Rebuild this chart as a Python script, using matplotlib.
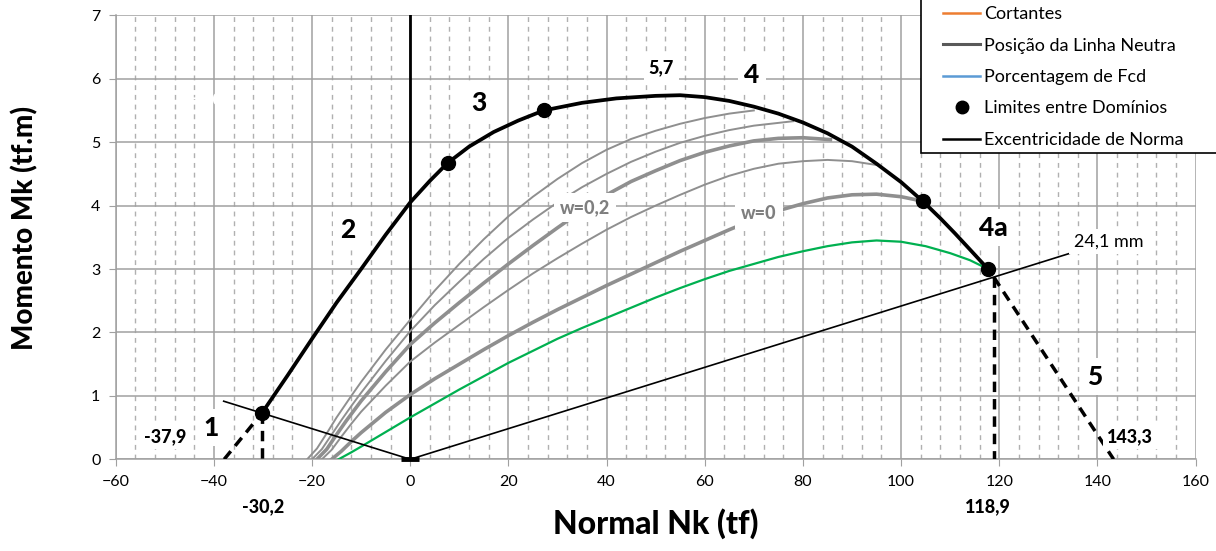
import matplotlib
matplotlib.use("Agg")
import matplotlib.pyplot as plt
from matplotlib.lines import Line2D
from matplotlib.patches import Rectangle

plt.rcParams['font.family'] = ['Lato', 'DejaVu Sans']

# ---------------- data ----------------
# interaction envelope (domains)
dom1_N = [-37.9, -30.2]
dom1_M = [0.0, 0.73]
dom2_N = [-30.2, -25, -20, -15, -10, -5, 0, 4, 7.6]
dom2_M = [0.73, 1.32, 1.9, 2.47, 3.0, 3.54, 4.05, 4.39, 4.67]
dom3_N = [7.6, 12, 17, 22, 27.2]
dom3_M = [4.67, 4.93, 5.16, 5.34, 5.5]
dom4_N = [27.2, 35, 42, 50, 55, 60, 65, 70, 75, 80, 85, 90, 95, 100, 104.4]
dom4_M = [5.5, 5.62, 5.69, 5.73, 5.74, 5.71, 5.65, 5.56, 5.45, 5.31, 5.14, 4.93, 4.66, 4.37, 4.07]
dom4a_N = [104.4, 108, 111, 114, 117.7]
dom4a_M = [4.07, 3.8, 3.56, 3.31, 3.0]
dom5_N = [118.9, 143.3]
dom5_M = [2.87, 0.0]
vert_left_N = [-30.2, -30.2]
vert_left_M = [0.73, 0.0]
vert_right_N = [118.9, 118.9]
vert_right_M = [2.87, 0.0]

# domain limits
lim_N = [-30.2, 7.6, 27.2, 104.4, 117.7]
lim_M = [0.73, 4.67, 5.5, 4.07, 3.0]

# eccentricity lines (24,1 mm)
ecc_left_N = [0, -38.0]
ecc_left_M = [0, 0.916]
ecc_right_N = [0, 134.5]
ecc_right_M = [0, 3.25]

# gray curves (reinforcement ratios)
t1_N = [-21, -19, -17, -15, -12, -10, -5, 0, 5, 10, 15, 20, 25, 30, 35, 40, 45, 50, 55, 60, 65, 70]
t1_M = [0, 0.17, 0.41, 0.66, 1.0, 1.22, 1.73, 2.2, 2.66, 3.08, 3.47, 3.83, 4.14, 4.42, 4.67, 4.88, 5.05, 5.18, 5.29, 5.38, 5.45, 5.5]
t2_N = [-20, -18, -16, -14, -12, -10, -5, 0, 5, 10, 15, 20, 25, 30, 35, 40, 45, 50, 55, 60, 65, 70, 78]
t2_M = [0, 0.16, 0.39, 0.62, 0.84, 1.05, 1.55, 2.02, 2.43, 2.8, 3.16, 3.49, 3.78, 4.05, 4.29, 4.5, 4.69, 4.85, 4.99, 5.1, 5.19, 5.26, 5.33]
tk1_N = [-19, -17, -15, -13, -10, -5, 0, 5, 10, 15, 20, 25, 30, 35, 40, 45, 50, 55, 60, 65, 70, 75, 80, 85.6]
tk1_M = [0, 0.16, 0.39, 0.61, 0.92, 1.38, 1.81, 2.15, 2.47, 2.78, 3.08, 3.37, 3.65, 3.92, 4.17, 4.38, 4.55, 4.71, 4.84, 4.94, 5.02, 5.06, 5.07, 5.04]
t3_N = [-18, -16, -14, -12, -10, -5, 0, 5, 10, 15, 20, 25, 30, 35, 40, 45, 50, 55, 60, 65, 70, 75, 80, 85, 90, 95]
t3_M = [0, 0.15, 0.36, 0.56, 0.75, 1.16, 1.54, 1.84, 2.12, 2.4, 2.67, 2.93, 3.17, 3.4, 3.62, 3.82, 4.0, 4.17, 4.33, 4.47, 4.58, 4.66, 4.7, 4.72, 4.7, 4.64]
w0_N = [-16, -14, -12, -10, -5, 0, 5, 10, 15, 20, 25, 30, 35, 40, 45, 50, 55, 60, 65, 70, 75, 80, 85, 90, 95, 100, 104.4]
w0_M = [0, 0.13, 0.28, 0.42, 0.74, 1.02, 1.27, 1.5, 1.73, 1.95, 2.16, 2.36, 2.55, 2.74, 2.92, 3.1, 3.28, 3.45, 3.62, 3.78, 3.92, 4.03, 4.12, 4.17, 4.18, 4.14, 4.07]
gr_N = [-14.6, -12, -10, -5, 0, 5, 10, 15, 20, 25, 30, 35, 40, 45, 50, 55, 60, 65, 70, 75, 80, 85, 90, 95, 100, 105, 110, 114, 117.7]
gr_M = [0, 0.11, 0.2, 0.43, 0.66, 0.88, 1.1, 1.31, 1.52, 1.71, 1.9, 2.07, 2.23, 2.39, 2.55, 2.7, 2.84, 2.97, 3.08, 3.19, 3.28, 3.36, 3.42, 3.45, 3.43, 3.36, 3.25, 3.14, 3.0]

x_ticks = [-60, -40, -20, 0, 20, 40, 60, 80, 100, 120, 140, 160]
y_ticks = [0, 1, 2, 3, 4, 5, 6, 7]

legend_labels = ['Cortantes', 'Posição da Linha Neutra', 'Porcentagem de Fcd',
                 'Limites entre Domínios', 'Excentricidade de Norma']
legend_colors = ['#ED7D31', '#595959', '#5B9BD5', 'black', 'black']

# ---------------- figure ----------------
W, H = 1216, 551
fig = plt.figure(figsize=(W / 100, H / 100), dpi=100)
x0, x1, y0, y1 = 115.7, 1195.6, 459.3, 15.3
ax = fig.add_axes([x0 / W, 1 - y0 / H, (x1 - x0) / W, (y0 - y1) / H])
ax.set_xlim(-60, 160)
ax.set_ylim(0, 7)
ax.set_xticks(x_ticks)
ax.set_yticks(y_ticks)
ax.set_xticks(range(-56, 160, 4), minor=True)
ax.set_axisbelow(True)
ax.grid(which='major', color='#a0a0a0', lw=1.1)
ax.grid(which='minor', axis='x', color='#b0b0b0', lw=1.0, linestyle=(0, (3.5, 3.5)))
ax.tick_params(which='minor', length=0)
ax.tick_params(which='major', length=5, color='#a0a0a0', labelsize=11.5, pad=6)
for s in ['top', 'right']:
    ax.spines[s].set_visible(False)
for s in ['left', 'bottom']:
    ax.spines[s].set_color('#a0a0a0')
    ax.spines[s].set_linewidth(1.1)

ax.axvline(0, color='black', lw=2.0, zorder=3)

gray = '#8f8f8f'
ax.plot(t1_N, t1_M, color=gray, lw=1.4, zorder=3)
ax.plot(t2_N, t2_M, color=gray, lw=1.4, zorder=3)
ax.plot(tk1_N, tk1_M, color=gray, lw=2.6, zorder=3)
ax.plot(t3_N, t3_M, color=gray, lw=1.4, zorder=3)
ax.plot(w0_N, w0_M, color=gray, lw=2.6, zorder=3)
ax.plot(gr_N, gr_M, color='#00b050', lw=1.6, zorder=3)

ax.plot(ecc_left_N, ecc_left_M, color='black', lw=1.2, zorder=4)
ax.plot(ecc_right_N, ecc_right_M, color='black', lw=1.2, zorder=4)
ax.plot([-1.8, 1.8], [0, 0], color='black', lw=3.5, zorder=4, solid_capstyle='butt', clip_on=False)

for n, m in [(dom2_N, dom2_M), (dom3_N, dom3_M), (dom4_N, dom4_M), (dom4a_N, dom4a_M)]:
    ax.plot(n, m, color='black', lw=2.7, zorder=5, solid_joinstyle='round')
for n, m in [(dom1_N, dom1_M), (dom5_N, dom5_M), (vert_left_N, vert_left_M), (vert_right_N, vert_right_M)]:
    ax.plot(n, m, color='black', lw=2.5, zorder=5, linestyle=(0, (3, 2)))
ax.plot(lim_N, lim_M, 'o', color='black', ms=10, zorder=6)

wb = dict(boxstyle='square,pad=0.25', fc='white', ec='none')
big = dict(fontsize=19, fontweight='black', ha='center', va='center', bbox=wb, zorder=7)
ax.text(-40.6, 0.5, '1', **big)
ax.text(-12.8, 3.62, '2', **big)
ax.text(14.0, 5.62, '3', **big)
ax.text(69.6, 6.06, '4', **big)
ax.text(118.8, 3.65, '4a', **big)
ax.text(139.5, 1.3, '5', **big)
small = dict(fontsize=13, fontweight='black', ha='center', va='center', bbox=wb, zorder=7)
ax.text(51.2, 6.17, '5,7', **small)
ax.text(-50.0, 0.36, '-37,9', **small)
ax.text(146.7, 0.36, '143,3', **small)
ax.text(-30.0, -0.74, '-30,2', clip_on=False, **small)
ax.text(117.7, -0.74, '118,9', clip_on=False, **small)
ax.text(142.3, 3.43, '24,1 mm', fontsize=13, ha='center', va='center', bbox=wb, zorder=7)
ax.text(-42.8, 5.67, 'w=1,0', fontsize=12, fontweight='bold', color='white', ha='center', va='center', zorder=2.5)
gb = dict(boxstyle='square,pad=0.35', fc='white', ec='none')
ax.text(35.6, 3.97, 'w=0,2', fontsize=13, fontweight='black', color='#7f7f7f', ha='center', va='center', bbox=gb, zorder=3.5)
ax.text(71.0, 3.87, 'w=0', fontsize=13, fontweight='black', color='#7f7f7f', ha='center', va='center', bbox=gb, zorder=3.5)

ax.set_xlabel('Normal Nk (tf)', fontsize=23, fontweight='black', labelpad=14)
ax.set_ylabel('Momento Mk (tf.m)', fontsize=20, fontweight='black', labelpad=14)
ax.yaxis.set_label_coords(-0.072, 0.52)

# legend (frame drawn separately, clipped by figure edges)
handles = [Line2D([], [], color=legend_colors[0], lw=1.8),
           Line2D([], [], color=legend_colors[1], lw=2.2),
           Line2D([], [], color=legend_colors[2], lw=1.8),
           Line2D([], [], color='black', marker='o', ms=9, lw=0),
           Line2D([], [], color='black', lw=1.8)]
fig.add_artist(Rectangle((921 / W, 1 - 153 / H), 400 / W, 200 / H, transform=fig.transFigure,
                         fc='white', ec='black', lw=1.2, zorder=10))
leg = fig.legend(handles, legend_labels, loc='upper left', bbox_to_anchor=(929 / W, 1 + 8 / H),
                 frameon=False, fontsize=13, handlelength=2.05, handletextpad=0.2,
                 labelspacing=0.85, borderpad=0.3)
leg.set_zorder(11)

fig.savefig('out.png', dpi=100)
